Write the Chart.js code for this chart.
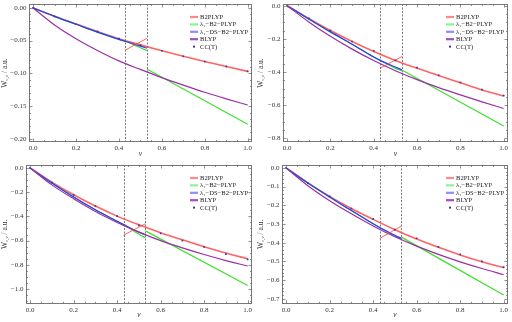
<!DOCTYPE html>
<html><head><meta charset="utf-8">
<script src="https://cdn.jsdelivr.net/npm/chart.js@4.4.0/dist/chart.umd.min.js"></script>
<style>
html,body{margin:0;padding:0;background:#fff;}
#grid{position:relative;width:512px;height:322px;overflow:hidden;}
.cell{position:absolute;width:256px;height:161px;}
canvas{display:block;}
</style></head><body>
<div id="grid">
<div class="cell" style="left:0;top:0"><canvas id="c1" width="256" height="161"></canvas></div>
<div class="cell" style="left:256px;top:0"><canvas id="c2" width="256" height="161"></canvas></div>
<div class="cell" style="left:0;top:161px"><canvas id="c3" width="256" height="161"></canvas></div>
<div class="cell" style="left:256px;top:161px"><canvas id="c4" width="256" height="161"></canvas></div>
</div>
<script>
// ---------- data ----------
const seriesNames = ["B2PLYP", "λ₁−B2−PLYP", "λ₁−DS−B2−PLYP", "BLYP", "CC(T)"];
const nu = [0, 0.1, 0.2, 0.3, 0.4, 0.5, 0.6, 0.7, 0.8, 0.9, 1.0];
const nuLow = [0, 0.1, 0.2, 0.3, 0.4, 0.43, 0.5, 0.53];
const nuTail = [0.53, 1.0];
const nuCross = [0.43, 0.53];
const nuDashed = [0.43, 0.53];
const xTicks = [0, 0.2, 0.4, 0.6, 0.8, 1.0];

// panel 1 (top-left)
const p1_b2plyp = [0, -0.0128, -0.0245, -0.0360, -0.0470, -0.0565, -0.0655, -0.0740, -0.0820, -0.0895, -0.0970];
const p1_cct    = [0, -0.0130, -0.0250, -0.0360, -0.0470, -0.0570, -0.0655, -0.0740, -0.0820, -0.0895, -0.0970];
const p1_ds     = [0, -0.0130, -0.0250, -0.0370, -0.0480, -0.0510, -0.0585, -0.0615];
const p1_l1     = [0, -0.0130, -0.0250, -0.0370, -0.0480, -0.0510, -0.0610, -0.0650];
const p1_l1Tail = [-0.0935, -0.178];
const p1_blyp   = [0, -0.026, -0.047, -0.065, -0.081, -0.094, -0.1065, -0.118, -0.129, -0.139, -0.1485];
const p1_cross  = [-0.0645, -0.0465];
const p1_yTicks = [0, -0.05, -0.10, -0.15, -0.20];

// panel 2 (top-right)
const p2_b2plyp = [0, -0.077, -0.150, -0.216, -0.276, -0.330, -0.378, -0.421, -0.465, -0.508, -0.544];
const p2_cct    = [0, -0.077, -0.150, -0.216, -0.272, -0.330, -0.374, -0.420, -0.463, -0.506, -0.542];
const p2_ds     = [0, -0.080, -0.158, -0.233, -0.310, -0.330, -0.370, -0.387];
const p2_l1     = [0, -0.080, -0.158, -0.233, -0.310, -0.330, -0.378, -0.392];
const p2_l1Tail = [-0.388, -0.725];
const p2_blyp   = [0, -0.098, -0.185, -0.262, -0.331, -0.392, -0.446, -0.494, -0.538, -0.580, -0.620];
const p2_cross  = [-0.377, -0.307];
const p2_yTicks = [0, -0.2, -0.4, -0.6, -0.8];

// panel 3 (bottom-left)
const p3_b2plyp = [0, -0.118, -0.222, -0.315, -0.398, -0.470, -0.535, -0.594, -0.650, -0.703, -0.750];
const p3_cct    = [0, -0.122, -0.222, -0.315, -0.398, -0.474, -0.540, -0.600, -0.652, -0.712, -0.755];
const p3_ds     = [0, -0.125, -0.240, -0.345, -0.440, -0.468, -0.530, -0.552];
const p3_l1     = [0, -0.125, -0.240, -0.345, -0.440, -0.468, -0.548, -0.577];
const p3_l1Tail = [-0.520, -0.970];
const p3_blyp   = [0, -0.140, -0.255, -0.360, -0.450, -0.530, -0.600, -0.660, -0.715, -0.765, -0.810];
const p3_cross  = [-0.555, -0.461];
const p3_yTicks = [0, -0.2, -0.4, -0.6, -0.8, -1.0];

// panel 4 (bottom-right)
const p4_b2plyp = [0, -0.080, -0.152, -0.217, -0.275, -0.330, -0.380, -0.424, -0.466, -0.502, -0.533];
const p4_cct    = [0, -0.082, -0.152, -0.217, -0.272, -0.330, -0.376, -0.422, -0.462, -0.500, -0.530];
const p4_ds     = [0, -0.080, -0.155, -0.228, -0.298, -0.318, -0.360, -0.377];
const p4_l1     = [0, -0.080, -0.155, -0.228, -0.298, -0.318, -0.365, -0.381];
const p4_l1Tail = [-0.370, -0.680];
const p4_blyp   = [0, -0.095, -0.175, -0.245, -0.310, -0.368, -0.418, -0.462, -0.502, -0.538, -0.571];
const p4_cross  = [-0.377, -0.311];
const p4_yTicks = [0, -0.1, -0.2, -0.3, -0.4, -0.5, -0.6, -0.7];

// ---------- styling ----------
const FONT = "'Liberation Serif', 'DejaVu Serif', serif";
const C_RED = 'rgba(255,60,60,0.8)', C_GREEN = '#3ee02c', C_BLUE = '#3038ff', C_PURPLE = '#9a2fa8', C_DOT = '#3b3b9a';
const LEG_COLORS = ['#ff8a8a', '#8cf58c', '#8c8cff', '#a450b4', C_DOT];

function pts(xs, ys) { return xs.map((x, i) => ({ x: x, y: ys[i] })); }
function fmtMinus(s) { return s.replace('-', '\u2212'); }

const decoPlugin = {
  id: 'deco',
  beforeDatasetsDraw(chart, args, o) {
    const ctx = chart.ctx, a = chart.chartArea, xs = chart.scales.x;
    ctx.save();
    ctx.strokeStyle = '#555'; ctx.lineWidth = 0.8; ctx.setLineDash([2, 1.5]);
    nuDashed.forEach(v => {
      const px = Math.round(xs.getPixelForValue(v)) + 0.5;
      ctx.beginPath(); ctx.moveTo(px, a.top); ctx.lineTo(px, a.bottom); ctx.stroke();
    });
    ctx.restore();
  },
  afterDraw(chart, args, o) {
    const ctx = chart.ctx, a = chart.chartArea, xs = chart.scales.x, ys = chart.scales.y;
    ctx.save();
    // frame
    ctx.strokeStyle = '#777'; ctx.lineWidth = 1;
    ctx.strokeRect(Math.round(a.left) + 0.5, Math.round(a.top) + 0.5, Math.round(a.right - a.left) - 1, Math.round(a.bottom - a.top) - 1);
    // inward ticks
    function ticksFor(scale, vals, div, horiz) {
      const step = vals[1] - vals[0];
      const all = [];
      const lo = Math.min(scale.min, scale.max), hi = Math.max(scale.min, scale.max);
      const start = vals[0] - step * 3;
      for (let k = 0; k < (vals.length + 6) * div; k++) {
        const v = start + k * step / div;
        if (v < lo - 1e-9 || v > hi + 1e-9) continue;
        all.push({ v: v, major: k % div === 0 });
      }
      all.forEach(t => {
        const L = t.major ? 3.5 : 2;
        const p = Math.round(scale.getPixelForValue(t.v)) + 0.5;
        ctx.beginPath();
        if (horiz) {
          ctx.moveTo(p, a.bottom); ctx.lineTo(p, a.bottom - L);
          ctx.moveTo(p, a.top); ctx.lineTo(p, a.top + L);
        } else {
          ctx.moveTo(a.left, p); ctx.lineTo(a.left + L, p);
          ctx.moveTo(a.right, p); ctx.lineTo(a.right - L, p);
        }
        ctx.stroke();
      });
    }
    ctx.lineWidth = 0.7; ctx.strokeStyle = '#666';
    ticksFor(xs, xTicks, 4, true);
    ticksFor(ys, o.yTicks, o.yMinor, false);
    // y title with subscript
    ctx.fillStyle = '#333';
    ctx.translate(5, (a.top + a.bottom) / 2);
    ctx.rotate(-Math.PI / 2);
    const fBig = '7.5px ' + FONT, fSmall = '5px ' + FONT;
    ctx.font = fBig; const wW = ctx.measureText('W').width;
    ctx.font = fSmall; const wS = ctx.measureText('c,ν').width;
    ctx.font = fBig; const wR = ctx.measureText(' / a.u.').width;
    let x0 = -(wW + wS + wR) / 2;
    ctx.textBaseline = 'middle'; ctx.textAlign = 'left';
    ctx.font = fBig; ctx.fillText('W', x0, 0);
    ctx.font = fSmall; ctx.fillText('c,ν', x0 + wW, 2);
    ctx.font = fBig; ctx.fillText(' / a.u.', x0 + wW + wS, 0);
    ctx.setTransform(1, 0, 0, 1, 0, 0);
    // legend
    const lx = 190, ly0 = 17, dy = 7.4;
    ctx.font = '6.6px ' + FONT; ctx.textBaseline = 'middle'; ctx.fillStyle = '#222';
    seriesNames.forEach((name, i) => {
      const y = ly0 + i * dy;
      if (i < 4) {
        ctx.strokeStyle = LEG_COLORS[i]; ctx.lineWidth = 2.2; ctx.setLineDash([]);
        ctx.beginPath(); ctx.moveTo(lx, y); ctx.lineTo(lx + 8, y); ctx.stroke();
      } else {
        ctx.fillStyle = C_DOT; ctx.fillRect(lx + 3, y - 1, 2, 2); ctx.fillStyle = '#222';
      }
      ctx.fillText(name, lx + 10, y + 0.3);
    });
    ctx.restore();
  }
};

function makeChart(id, d) {
  const lineBase = { showLine: true, pointRadius: 0, cubicInterpolationMode: 'monotone', fill: false };
  const datasets = [
    Object.assign({}, lineBase, { label: 'CC(T)', data: pts(nu, d.cct), showLine: false, pointRadius: 1.2, pointStyle: 'rect', pointBackgroundColor: C_DOT, pointBorderWidth: 0 }),
    Object.assign({}, lineBase, { label: 'cross', data: pts(nuCross, d.cross), borderColor: C_RED, borderWidth: 1 }),
    Object.assign({}, lineBase, { label: 'BLYP', data: pts(nu, d.blyp), borderColor: C_PURPLE, borderWidth: 1.2 }),
    Object.assign({}, lineBase, { label: 'DS', data: pts(nuLow, d.ds), borderColor: C_BLUE, borderWidth: 1.2 }),
    Object.assign({}, lineBase, { label: 'L1', data: pts(nuLow, d.l1), borderColor: C_GREEN, borderWidth: 1.2 }),
    Object.assign({}, lineBase, { label: 'L1tail', data: pts(nuTail, d.l1Tail), borderColor: C_GREEN, borderWidth: 1.2 }),
    Object.assign({}, lineBase, { label: 'B2PLYP', data: pts(nu, d.b2plyp), borderColor: C_RED, borderWidth: 1.6 })
  ];
  return new Chart(document.getElementById(id), {
    type: 'scatter',
    data: { datasets: datasets },
    plugins: [decoPlugin],
    options: {
      animation: false, responsive: false, devicePixelRatio: 1,
      layout: { padding: { top: 1, right: 1, left: 0, bottom: 0 } },
      plugins: { legend: { display: false }, tooltip: { enabled: false }, deco: { yTicks: d.yTicks, yMinor: d.yMinor } },
      scales: {
        x: {
          type: 'linear', min: -0.019, max: 1.02,
          afterBuildTicks: s => { s.ticks = xTicks.map(v => ({ value: v })); },
          afterFit: s => { s.height = d.xH; s.paddingLeft = 0; s.paddingRight = 0; },
          grid: { display: false, drawTicks: false }, border: { display: false },
          ticks: { font: { family: FONT, size: 7 }, color: '#333', padding: 2, maxRotation: 0, autoSkip: false, callback: v => v.toFixed(1) },
          title: { display: true, text: 'ν', font: { family: FONT, size: 7.5, style: 'italic' }, color: '#333', padding: { top: 0, bottom: 2 } }
        },
        y: {
          type: 'linear', min: d.yMin, max: d.yMax,
          afterBuildTicks: s => { s.ticks = d.yTicks.map(v => ({ value: v })); },
          afterFit: s => { s.width = d.yW; s.paddingTop = 0; s.paddingBottom = 0; },
          grid: { display: false, drawTicks: false }, border: { display: false },
          ticks: { font: { family: FONT, size: 7 }, color: '#333', padding: 2.5, autoSkip: false, callback: v => fmtMinus(v.toFixed(d.dec)) }
        }
      }
    }
  });
}

makeChart('c1', { b2plyp: p1_b2plyp, cct: p1_cct, ds: p1_ds, l1: p1_l1, l1Tail: p1_l1Tail, blyp: p1_blyp, cross: p1_cross, yTicks: p1_yTicks, yMinor: 5, yMin: -0.205, yMax: 0.006, yW: 29, xH: 19, dec: 2 });
makeChart('c2', { b2plyp: p2_b2plyp, cct: p2_cct, ds: p2_ds, l1: p2_l1, l1Tail: p2_l1Tail, blyp: p2_blyp, cross: p2_cross, yTicks: p2_yTicks, yMinor: 4, yMin: -0.822, yMax: 0.010, yW: 27, xH: 19, dec: 1 });
makeChart('c3', { b2plyp: p3_b2plyp, cct: p3_cct, ds: p3_ds, l1: p3_l1, l1Tail: p3_l1Tail, blyp: p3_blyp, cross: p3_cross, yTicks: p3_yTicks, yMinor: 4, yMin: -1.121, yMax: 0.024, yW: 26, xH: 18.3, dec: 1 });
makeChart('c4', { b2plyp: p4_b2plyp, cct: p4_cct, ds: p4_ds, l1: p4_l1, l1Tail: p4_l1Tail, blyp: p4_blyp, cross: p4_cross, yTicks: p4_yTicks, yMinor: 5, yMin: -0.726, yMax: 0.0157, yW: 26, xH: 18.3, dec: 1 });
</script>
</body></html>
